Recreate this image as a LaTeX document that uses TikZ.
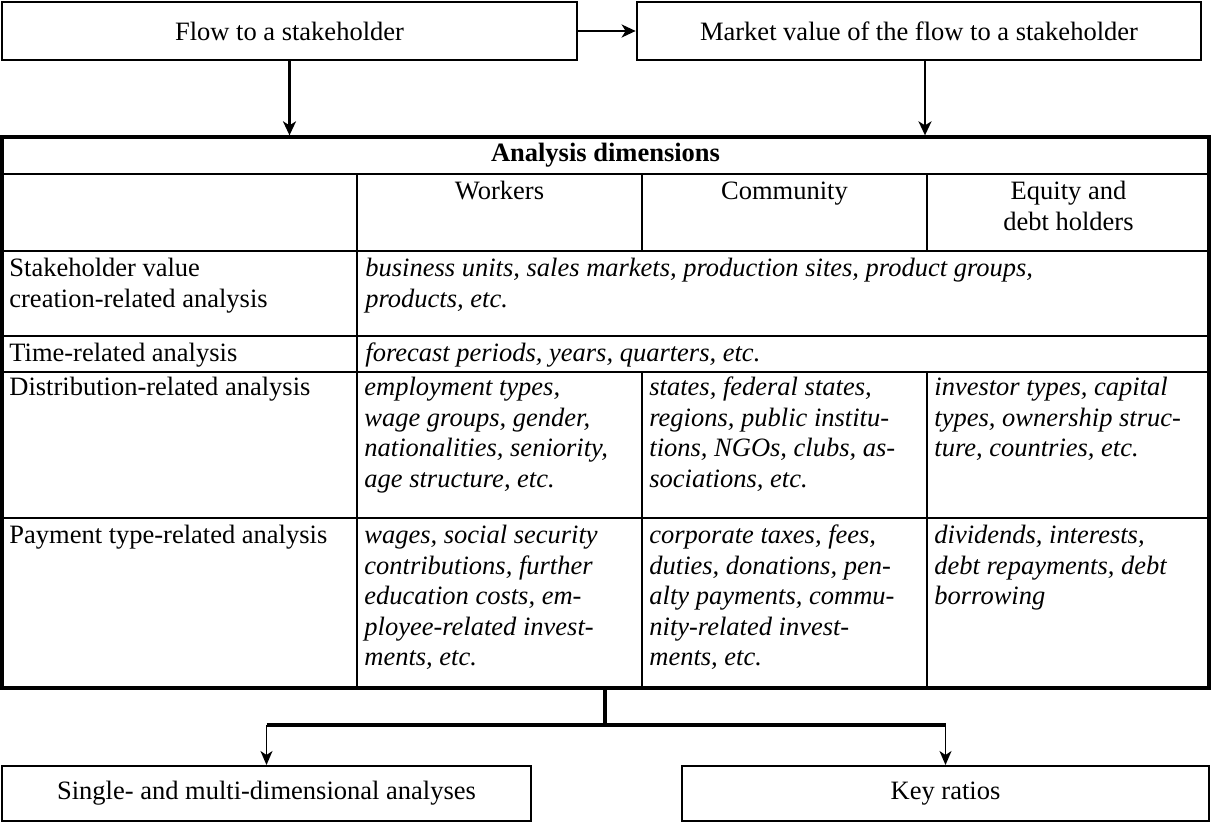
\documentclass[tikz,border=0pt]{standalone}
\usepackage{fontspec}
\setmainfont{Liberation Serif}
\usetikzlibrary{arrows.meta}
\newcommand\cellfont{\fontsize{13.25}{15.25}\selectfont}

\begin{document}
\begin{tikzpicture}[x=0.5pt,y=-0.5pt,
  frame/.style={draw, line width=1.35pt, inner sep=0pt, minimum height=29pt, font=\cellfont},
  lowbox/.style={draw, line width=1pt, inner sep=0pt, minimum height=27.5pt, font=\cellfont},
  arr/.style={line width=1.1pt, -{Stealth[length=7pt,width=6.5pt,inset=2pt]}},
  thinarr/.style={line width=0.8pt, -{Stealth[length=7pt,width=6pt,inset=2pt]}},
  cell/.style={anchor=north west, inner sep=0pt, align=left, font=\cellfont\itshape},
  rowlabel/.style={anchor=north west, inner sep=0pt, align=left, font=\cellfont},
  head/.style={anchor=north, inner sep=0pt, align=center, font=\cellfont},
  rule/.style={line width=0.7pt},
  heavy/.style={line width=1.4pt},
  border/.style={line width=1.65pt},
]
\useasboundingbox (0,0) rectangle (1212,823);

% top boxes
\node[frame, minimum width=287.5pt] (flow) at (289.5,31) {Flow to a stakeholder};
\node[frame, minimum width=282pt] (market) at (919,31) {Market value of the flow to a stakeholder};

% table frame
\node[draw, border, minimum width=603.5pt, minimum height=275.5pt, inner sep=0pt] (tbl) at (605.5,412.5) {};

\draw[arr] (flow) -- (market);
\draw[arr] (flow.south) -- (flow.south |- tbl.north);
\draw[arr] ([xshift=3pt]market.south) -- ([xshift=3pt]market.south |- tbl.north);

% table rules
\draw[heavy] (tbl.west |- 0,174) -- (tbl.east |- 0,174);
\draw[heavy] (tbl.west |- 0,251) -- (tbl.east |- 0,251);
\draw[rule] (tbl.west |- 0,336) -- (tbl.east |- 0,336);
\draw[rule] (tbl.west |- 0,372) -- (tbl.east |- 0,372);
\draw[rule] (tbl.west |- 0,518) -- (tbl.east |- 0,518);
\draw[heavy] (357,174) -- (357,0 |- tbl.south);
\draw[heavy] (642,174) -- (642,251);
\draw[heavy] (927,174) -- (927,251);
\draw[rule] (642,372) -- (642,0 |- tbl.south);
\draw[rule] (927,372) -- (927,0 |- tbl.south);

% table text (each first line opens with a strut so all baselines line up)
\node[font=\cellfont\bfseries] (hdr) at (605.5,155.5) {Analysis dimensions};
\node[head] (hw) at (499.5,178) {\strut Workers};
\node[head] (hc) at (784.5,178) {\strut Community};
\node[head] (he) at (1068.5,178) {\strut Equity and\\debt holders};

\node[rowlabel] (r1) at (9,255) {\strut Stakeholder value\\creation-related analysis};
\node[cell] (v1) at (365,255) {\strut business units, sales markets, production sites, product groups,\\products, etc.};
\node[rowlabel] (r2) at (9,340) {\strut Time-related analysis};
\node[cell] (v2) at (365,340) {\strut forecast periods, years, quarters, etc.};

\node[rowlabel] (r3) at (9,374) {\strut Distribution-related analysis};
\node[cell] (d1) at (364,374) {\strut employment types,\\wage groups, gender,\\nationalities, seniority,\\age structure, etc.};
\node[cell] (d2) at (649,374) {\strut states, federal states,\\regions, public institu-\\tions, NGOs, clubs, as-\\sociations, etc.};
\node[cell] (d3) at (934,374) {\strut investor types, capital\\types, ownership struc-\\ture, countries, etc.};

\node[rowlabel] (r4) at (9,522) {\strut Payment type-related analysis};
\node[cell] (p1) at (364,522) {\strut wages, social security\\contributions, further\\education costs, em-\\ployee-related invest-\\ments, etc.};
\node[cell] (p2) at (649,522) {\strut corporate taxes, fees,\\duties, donations, pen-\\alty payments, commu-\\nity-related invest-\\ments, etc.};
\node[cell] (p3) at (934,522) {\strut dividends, interests,\\debt repayments, debt\\borrowing};

% bottom boxes
\node[lowbox, minimum width=264.5pt] (multi) at (266.5,793.5) {Single- and multi-dimensional analyses};
\node[lowbox, minimum width=263.5pt] (ratios) at (945.5,793.5) {Key ratios};

\coordinate (fork) at (605,725);
\draw[border] (tbl.south -| fork) -- (fork);
\draw[border] (fork -| multi) -- (fork -| ratios);
\draw[thinarr] (fork -| multi) -- (multi.north);
\draw[thinarr] (fork -| ratios) -- (ratios.north);
\end{tikzpicture}
\end{document}
